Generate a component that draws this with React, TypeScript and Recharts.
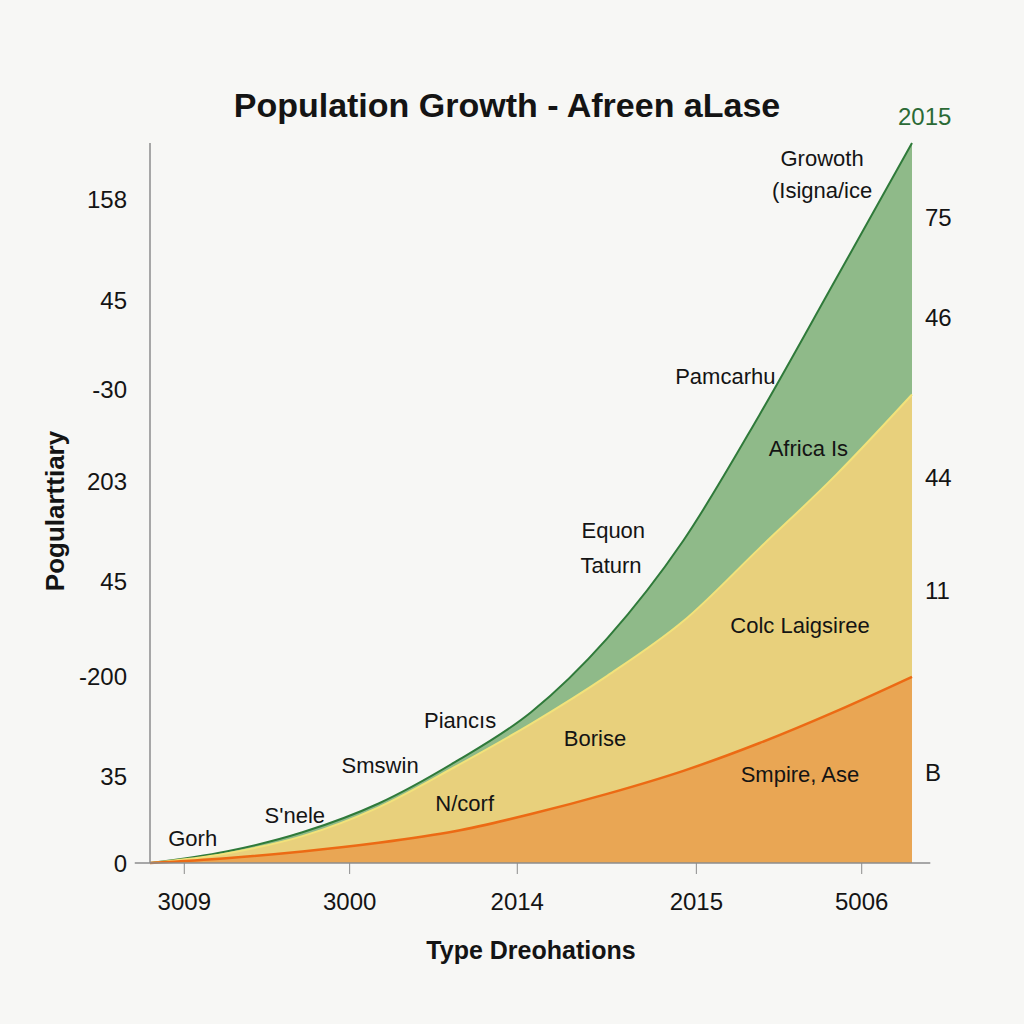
import { Area, AreaChart, Label, ReferenceDot, ReferenceLine, XAxis, YAxis } from "recharts"

const xs = [0, 10, 20, 30, 40, 50, 60, 70, 80, 90, 100]
const orangeTop = [0, 5, 12, 21, 33, 51, 72, 96, 125, 158, 194]
const yellowTop = [0, 10, 28, 58, 100, 145, 195, 252, 328, 404, 488]
const greenTop = [0, 12, 32, 62, 105, 157, 234, 336, 467, 608, 750]

const xTickPos = [4.5, 26.2, 48.2, 71.7, 93.4]
const xTickLabels = ["3009", "3000", "2014", "2015", "5006"]

const leftTickPos = [0, 90, 194, 293, 397, 493, 586, 691]
const leftTickLabels = ["0", "35", "-200", "45", "203", "-30", "45", "158"]

const rightTickPos = [94, 284, 402, 568, 672]
const rightTickLabels = ["B", "11", "44", "46", "75"]

const notes = [
  { text: "Growoth", x: 88.2, y: 734 },
  { text: "(Isigna/ice", x: 88.2, y: 701 },
  { text: "Pamcarhu", x: 75.5, y: 507 },
  { text: "Africa Is", x: 86.4, y: 432 },
  { text: "Equon", x: 60.8, y: 347 },
  { text: "Taturn", x: 60.5, y: 310 },
  { text: "Colc Laigsiree", x: 85.3, y: 248 },
  { text: "Piancıs", x: 40.7, y: 149 },
  { text: "Borise", x: 58.4, y: 130 },
  { text: "Smswin", x: 30.2, y: 102 },
  { text: "Smpire, Ase", x: 85.3, y: 92 },
  { text: "S'nele", x: 19.0, y: 50 },
  { text: "N/corf", x: 41.3, y: 62 },
  { text: "Gorh", x: 5.6, y: 26 },
]

const rows = xs.map((x, i) => ({
  x,
  orange: orangeTop[i],
  yellow: yellowTop[i],
  green: greenTop[i],
}))

const FONT = "'Liberation Sans', Arial, sans-serif"
const NARROW = "'Liberation Sans Narrow', 'Liberation Sans', Arial, sans-serif"
const INK = "#141414"
const AXIS = "#8c8c8c"

export default function App() {
  return (
    <div style={{ position: "relative", width: 1024, height: 1024, background: "#f7f7f5", fontFamily: FONT }}>
      <style>{`body{margin:0}`}</style>
      <div
        style={{
          position: "absolute",
          top: 85,
          left: 0,
          width: 1014,
          textAlign: "center",
          fontSize: 34,
          fontWeight: 700,
          fontFamily: NARROW,
          color: INK,
          lineHeight: "40px",
        }}
      >
        Population Growth - Afreen aLase
      </div>
      <div style={{ position: "absolute", top: 102, left: 898, fontSize: 24, color: "#2b6a35", lineHeight: "30px" }}>
        2015
      </div>
      <AreaChart width={1024} height={1024} data={rows} margin={{ top: 143, right: 52, bottom: 51, left: 20 }}>
        <XAxis
          dataKey="x"
          type="number"
          domain={[0, 100]}
          ticks={xTickPos}
          interval={0}
          tickFormatter={(v: number) => xTickLabels[xTickPos.indexOf(v)] ?? ""}
          axisLine={false}
          tickLine={{ stroke: AXIS }}
          tickSize={11}
          tickMargin={19}
          tick={{ fontSize: 24, fill: INK }}
          height={110}
        >
          <Label
            value="Type Dreohations"
            position="insideBottom"
            offset={14}
            style={{ fontSize: 25, fontWeight: 700, fill: INK, fontFamily: NARROW }}
          />
        </XAxis>
        <YAxis
          yAxisId="left"
          domain={[0, 750]}
          ticks={leftTickPos}
          interval={0}
          tickFormatter={(v: number) => leftTickLabels[leftTickPos.indexOf(v)] ?? ""}
          axisLine={{ stroke: AXIS, strokeWidth: 1.5 }}
          tickLine={false}
          tickSize={0}
          tickMargin={23}
          tick={{ fontSize: 24, fill: INK }}
          width={130}
        >
          <Label
            content={({ viewBox }: any) => {
              const cx = viewBox.x + 35
              const cy = viewBox.y + viewBox.height / 2 + 8
              return (
                <text
                  x={cx}
                  y={cy}
                  transform={`rotate(-90, ${cx}, ${cy})`}
                  textAnchor="middle"
                  dominantBaseline="central"
                  style={{ fontSize: 26, fontWeight: 700, fill: INK }}
                >
                  Pogularttiary
                </text>
              )
            }}
          />
        </YAxis>
        <YAxis
          yAxisId="right"
          orientation="right"
          domain={[0, 750]}
          ticks={rightTickPos}
          interval={0}
          tickFormatter={(v: number) => rightTickLabels[rightTickPos.indexOf(v)] ?? ""}
          axisLine={false}
          tickLine={false}
          tickSize={0}
          tickMargin={13}
          tick={{ fontSize: 24, fill: INK }}
          width={60}
        />
        <Area
          yAxisId="left"
          type="monotone"
          dataKey="green"
          stroke="#2f7a3a"
          strokeWidth={2}
          fill="#8fba89"
          fillOpacity={1}
          isAnimationActive={false}
        />
        <Area
          yAxisId="left"
          type="monotone"
          dataKey="yellow"
          stroke="#f2e27a"
          strokeWidth={2}
          fill="#e8d07c"
          fillOpacity={1}
          isAnimationActive={false}
        />
        <Area
          yAxisId="right"
          type="monotone"
          dataKey="orange"
          stroke="#ec6a14"
          strokeWidth={2.5}
          fill="#e9a654"
          fillOpacity={1}
          isAnimationActive={false}
        />
        <ReferenceLine
          yAxisId="left"
          segment={[
            { x: -2, y: 0 },
            { x: 102.4, y: 0 },
          ]}
          stroke={AXIS}
          strokeWidth={1.5}
          ifOverflow="visible"
        />
        {notes.map((n) => (
          <ReferenceDot
            key={n.text}
            yAxisId="left"
            x={n.x}
            y={n.y}
            r={1}
            fill="none"
            stroke="none"
            label={{ value: n.text, position: "center", fontSize: 22, fill: INK }}
          />
        ))}
      </AreaChart>
    </div>
  )
}
